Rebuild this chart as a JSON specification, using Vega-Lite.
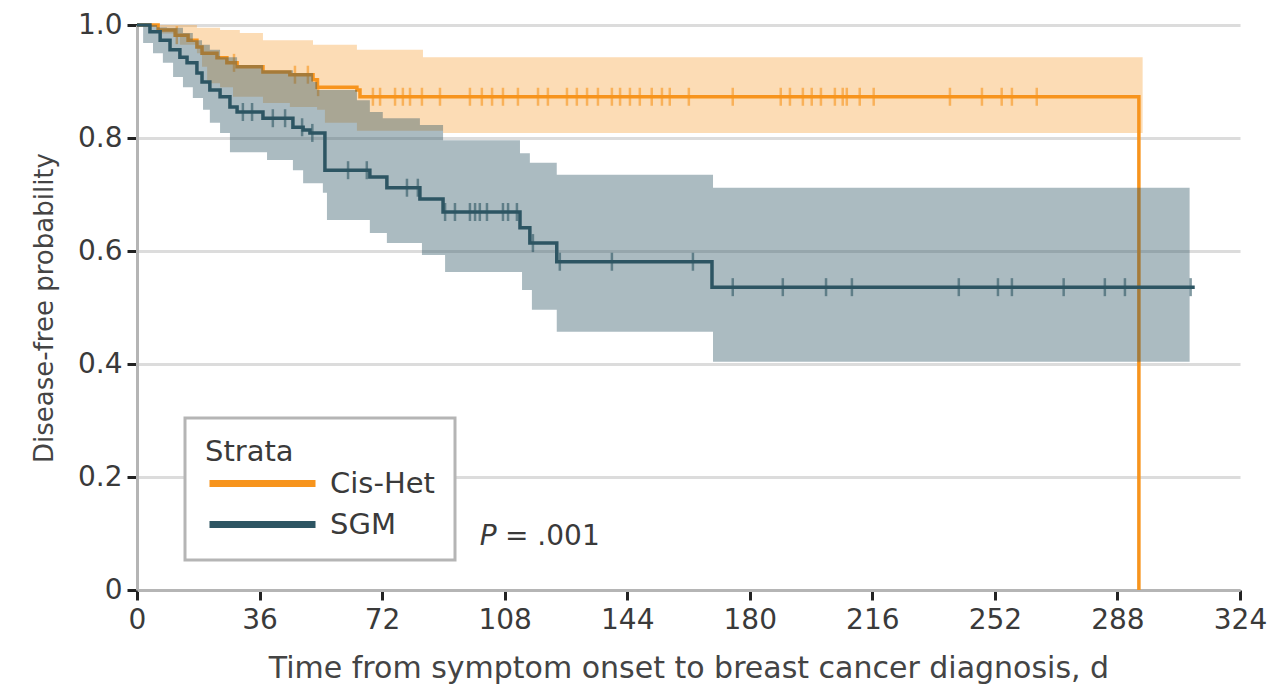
{
  "$schema": "https://vega.github.io/schema/vega-lite/v6.json",
  "width": 1103,
  "height": 565,
  "autosize": {"type": "none"},
  "padding": {"left": 137, "top": 25, "right": 31, "bottom": 96},
  "background": "white",
  "config": {
    "view": {"stroke": null},
    "font": "DejaVu Sans",
    "legend": {"strokeWidth": 3}
  },
  "datasets": {
    "curves": [
      {"group": "Cis-Het", "d": 0, "p": 1.0},
      {"group": "Cis-Het", "d": 6.2, "p": 0.991},
      {"group": "Cis-Het", "d": 11.2, "p": 0.982},
      {"group": "Cis-Het", "d": 15.0, "p": 0.973},
      {"group": "Cis-Het", "d": 17.6, "p": 0.961},
      {"group": "Cis-Het", "d": 19.1, "p": 0.950},
      {"group": "Cis-Het", "d": 23.5, "p": 0.942},
      {"group": "Cis-Het", "d": 26.4, "p": 0.933},
      {"group": "Cis-Het", "d": 29.4, "p": 0.926},
      {"group": "Cis-Het", "d": 37.0, "p": 0.917},
      {"group": "Cis-Het", "d": 44.9, "p": 0.912},
      {"group": "Cis-Het", "d": 51.7, "p": 0.903},
      {"group": "Cis-Het", "d": 52.9, "p": 0.890},
      {"group": "Cis-Het", "d": 64.6, "p": 0.885},
      {"group": "Cis-Het", "d": 65.5, "p": 0.873},
      {"group": "Cis-Het", "d": 294.3, "p": 0.0},
      {"group": "SGM", "d": 0, "p": 1.0},
      {"group": "SGM", "d": 3.8, "p": 0.988},
      {"group": "SGM", "d": 6.8, "p": 0.973},
      {"group": "SGM", "d": 9.7, "p": 0.956},
      {"group": "SGM", "d": 12.6, "p": 0.943},
      {"group": "SGM", "d": 14.7, "p": 0.933},
      {"group": "SGM", "d": 17.6, "p": 0.915},
      {"group": "SGM", "d": 19.1, "p": 0.899},
      {"group": "SGM", "d": 21.4, "p": 0.885},
      {"group": "SGM", "d": 24.4, "p": 0.873},
      {"group": "SGM", "d": 27.3, "p": 0.855},
      {"group": "SGM", "d": 29.4, "p": 0.846},
      {"group": "SGM", "d": 37.0, "p": 0.835},
      {"group": "SGM", "d": 45.8, "p": 0.819},
      {"group": "SGM", "d": 48.8, "p": 0.814},
      {"group": "SGM", "d": 50.8, "p": 0.809},
      {"group": "SGM", "d": 55.2, "p": 0.743},
      {"group": "SGM", "d": 68.4, "p": 0.731},
      {"group": "SGM", "d": 73.4, "p": 0.712},
      {"group": "SGM", "d": 83.1, "p": 0.692},
      {"group": "SGM", "d": 89.9, "p": 0.669},
      {"group": "SGM", "d": 112.5, "p": 0.641},
      {"group": "SGM", "d": 115.4, "p": 0.614},
      {"group": "SGM", "d": 123.3, "p": 0.581},
      {"group": "SGM", "d": 168.9, "p": 0.536},
      {"group": "SGM", "d": 310.7, "p": 0.536}
    ],
    "bands": [
      {"group": "Cis-Het", "d": 0, "lo": 1.0, "hi": 1.0},
      {"group": "Cis-Het", "d": 6.8, "lo": 0.985, "hi": 1.0},
      {"group": "Cis-Het", "d": 12.6, "lo": 0.965, "hi": 1.0},
      {"group": "Cis-Het", "d": 17.6, "lo": 0.950, "hi": 0.995},
      {"group": "Cis-Het", "d": 19.1, "lo": 0.926, "hi": 0.995},
      {"group": "Cis-Het", "d": 20.6, "lo": 0.897, "hi": 0.995},
      {"group": "Cis-Het", "d": 24.4, "lo": 0.890, "hi": 0.991},
      {"group": "Cis-Het", "d": 28.2, "lo": 0.873, "hi": 0.991},
      {"group": "Cis-Het", "d": 30.2, "lo": 0.873, "hi": 0.986},
      {"group": "Cis-Het", "d": 37.0, "lo": 0.862, "hi": 0.973},
      {"group": "Cis-Het", "d": 44.9, "lo": 0.855, "hi": 0.973},
      {"group": "Cis-Het", "d": 51.7, "lo": 0.855, "hi": 0.965},
      {"group": "Cis-Het", "d": 52.9, "lo": 0.850, "hi": 0.965},
      {"group": "Cis-Het", "d": 55.2, "lo": 0.827, "hi": 0.965},
      {"group": "Cis-Het", "d": 64.6, "lo": 0.813, "hi": 0.956},
      {"group": "Cis-Het", "d": 84.0, "lo": 0.813, "hi": 0.943},
      {"group": "Cis-Het", "d": 89.9, "lo": 0.809, "hi": 0.943},
      {"group": "Cis-Het", "d": 295.4, "lo": 0.809, "hi": 0.943},
      {"group": "SGM", "d": 0, "lo": 1.0, "hi": 1.0},
      {"group": "SGM", "d": 1.8, "lo": 0.968, "hi": 1.0},
      {"group": "SGM", "d": 4.7, "lo": 0.950, "hi": 1.0},
      {"group": "SGM", "d": 5.9, "lo": 0.950, "hi": 0.996},
      {"group": "SGM", "d": 7.6, "lo": 0.933, "hi": 0.996},
      {"group": "SGM", "d": 8.8, "lo": 0.933, "hi": 0.995},
      {"group": "SGM", "d": 10.6, "lo": 0.908, "hi": 0.995},
      {"group": "SGM", "d": 13.5, "lo": 0.890, "hi": 0.986},
      {"group": "SGM", "d": 16.4, "lo": 0.871, "hi": 0.973},
      {"group": "SGM", "d": 19.1, "lo": 0.871, "hi": 0.965},
      {"group": "SGM", "d": 19.4, "lo": 0.850, "hi": 0.965},
      {"group": "SGM", "d": 21.4, "lo": 0.827, "hi": 0.956},
      {"group": "SGM", "d": 24.4, "lo": 0.809, "hi": 0.943},
      {"group": "SGM", "d": 27.3, "lo": 0.775, "hi": 0.943},
      {"group": "SGM", "d": 29.4, "lo": 0.775, "hi": 0.929},
      {"group": "SGM", "d": 37.0, "lo": 0.775, "hi": 0.920},
      {"group": "SGM", "d": 38.2, "lo": 0.761, "hi": 0.920},
      {"group": "SGM", "d": 45.8, "lo": 0.743, "hi": 0.915},
      {"group": "SGM", "d": 48.8, "lo": 0.720, "hi": 0.915},
      {"group": "SGM", "d": 51.7, "lo": 0.720, "hi": 0.899},
      {"group": "SGM", "d": 52.9, "lo": 0.720, "hi": 0.885},
      {"group": "SGM", "d": 54.6, "lo": 0.703, "hi": 0.885},
      {"group": "SGM", "d": 55.8, "lo": 0.655, "hi": 0.885},
      {"group": "SGM", "d": 64.6, "lo": 0.655, "hi": 0.867},
      {"group": "SGM", "d": 68.4, "lo": 0.632, "hi": 0.846},
      {"group": "SGM", "d": 72.2, "lo": 0.632, "hi": 0.835},
      {"group": "SGM", "d": 73.4, "lo": 0.614, "hi": 0.835},
      {"group": "SGM", "d": 83.1, "lo": 0.614, "hi": 0.823},
      {"group": "SGM", "d": 83.7, "lo": 0.593, "hi": 0.823},
      {"group": "SGM", "d": 89.9, "lo": 0.593, "hi": 0.796},
      {"group": "SGM", "d": 90.5, "lo": 0.563, "hi": 0.796},
      {"group": "SGM", "d": 112.5, "lo": 0.563, "hi": 0.773},
      {"group": "SGM", "d": 113.1, "lo": 0.531, "hi": 0.773},
      {"group": "SGM", "d": 115.4, "lo": 0.531, "hi": 0.756},
      {"group": "SGM", "d": 116.0, "lo": 0.496, "hi": 0.756},
      {"group": "SGM", "d": 123.3, "lo": 0.457, "hi": 0.735},
      {"group": "SGM", "d": 169.2, "lo": 0.404, "hi": 0.712},
      {"group": "SGM", "d": 309.2, "lo": 0.404, "hi": 0.712}
    ],
    "censor": [
      {"group": "Cis-Het", "d": 11.7, "p": 0.982},
      {"group": "Cis-Het", "d": 28.5, "p": 0.933},
      {"group": "Cis-Het", "d": 46.4, "p": 0.912},
      {"group": "Cis-Het", "d": 50.2, "p": 0.912},
      {"group": "Cis-Het", "d": 53.2, "p": 0.890},
      {"group": "Cis-Het", "d": 69.3, "p": 0.873},
      {"group": "Cis-Het", "d": 71.4, "p": 0.873},
      {"group": "Cis-Het", "d": 75.8, "p": 0.873},
      {"group": "Cis-Het", "d": 78.1, "p": 0.873},
      {"group": "Cis-Het", "d": 80.2, "p": 0.873},
      {"group": "Cis-Het", "d": 83.7, "p": 0.873},
      {"group": "Cis-Het", "d": 89.0, "p": 0.873},
      {"group": "Cis-Het", "d": 97.8, "p": 0.873},
      {"group": "Cis-Het", "d": 101.3, "p": 0.873},
      {"group": "Cis-Het", "d": 104.3, "p": 0.873},
      {"group": "Cis-Het", "d": 107.5, "p": 0.873},
      {"group": "Cis-Het", "d": 111.9, "p": 0.873},
      {"group": "Cis-Het", "d": 117.8, "p": 0.873},
      {"group": "Cis-Het", "d": 120.7, "p": 0.873},
      {"group": "Cis-Het", "d": 126.3, "p": 0.873},
      {"group": "Cis-Het", "d": 129.2, "p": 0.873},
      {"group": "Cis-Het", "d": 132.2, "p": 0.873},
      {"group": "Cis-Het", "d": 135.4, "p": 0.873},
      {"group": "Cis-Het", "d": 139.5, "p": 0.873},
      {"group": "Cis-Het", "d": 141.9, "p": 0.873},
      {"group": "Cis-Het", "d": 144.8, "p": 0.873},
      {"group": "Cis-Het", "d": 147.7, "p": 0.873},
      {"group": "Cis-Het", "d": 151.2, "p": 0.873},
      {"group": "Cis-Het", "d": 154.2, "p": 0.873},
      {"group": "Cis-Het", "d": 156.5, "p": 0.873},
      {"group": "Cis-Het", "d": 162.1, "p": 0.873},
      {"group": "Cis-Het", "d": 175.0, "p": 0.873},
      {"group": "Cis-Het", "d": 189.1, "p": 0.873},
      {"group": "Cis-Het", "d": 191.8, "p": 0.873},
      {"group": "Cis-Het", "d": 195.6, "p": 0.873},
      {"group": "Cis-Het", "d": 198.2, "p": 0.873},
      {"group": "Cis-Het", "d": 200.9, "p": 0.873},
      {"group": "Cis-Het", "d": 205.0, "p": 0.873},
      {"group": "Cis-Het", "d": 207.3, "p": 0.873},
      {"group": "Cis-Het", "d": 208.5, "p": 0.873},
      {"group": "Cis-Het", "d": 212.3, "p": 0.873},
      {"group": "Cis-Het", "d": 216.4, "p": 0.873},
      {"group": "Cis-Het", "d": 238.8, "p": 0.873},
      {"group": "Cis-Het", "d": 248.2, "p": 0.873},
      {"group": "Cis-Het", "d": 254.0, "p": 0.873},
      {"group": "Cis-Het", "d": 257.0, "p": 0.873},
      {"group": "Cis-Het", "d": 264.3, "p": 0.873},
      {"group": "SGM", "d": 31.1, "p": 0.846},
      {"group": "SGM", "d": 33.8, "p": 0.846},
      {"group": "SGM", "d": 39.9, "p": 0.835},
      {"group": "SGM", "d": 43.5, "p": 0.835},
      {"group": "SGM", "d": 48.5, "p": 0.819},
      {"group": "SGM", "d": 51.5, "p": 0.809},
      {"group": "SGM", "d": 62.0, "p": 0.743},
      {"group": "SGM", "d": 67.5, "p": 0.743},
      {"group": "SGM", "d": 79.3, "p": 0.712},
      {"group": "SGM", "d": 82.5, "p": 0.712},
      {"group": "SGM", "d": 90.5, "p": 0.669},
      {"group": "SGM", "d": 93.4, "p": 0.669},
      {"group": "SGM", "d": 97.8, "p": 0.669},
      {"group": "SGM", "d": 99.3, "p": 0.669},
      {"group": "SGM", "d": 100.7, "p": 0.669},
      {"group": "SGM", "d": 102.8, "p": 0.669},
      {"group": "SGM", "d": 107.5, "p": 0.669},
      {"group": "SGM", "d": 109.0, "p": 0.669},
      {"group": "SGM", "d": 111.6, "p": 0.669},
      {"group": "SGM", "d": 116.3, "p": 0.614},
      {"group": "SGM", "d": 124.2, "p": 0.581},
      {"group": "SGM", "d": 139.5, "p": 0.581},
      {"group": "SGM", "d": 163.3, "p": 0.581},
      {"group": "SGM", "d": 175.0, "p": 0.536},
      {"group": "SGM", "d": 189.7, "p": 0.536},
      {"group": "SGM", "d": 202.4, "p": 0.536},
      {"group": "SGM", "d": 210.0, "p": 0.536},
      {"group": "SGM", "d": 241.4, "p": 0.536},
      {"group": "SGM", "d": 252.9, "p": 0.536},
      {"group": "SGM", "d": 257.0, "p": 0.536},
      {"group": "SGM", "d": 272.2, "p": 0.536},
      {"group": "SGM", "d": 284.3, "p": 0.536},
      {"group": "SGM", "d": 290.2, "p": 0.536},
      {"group": "SGM", "d": 309.5, "p": 0.536}
    ],
    "notes": [
      {"part": "P", "d": 100.7, "p": 0.093, "label": "P"},
      {"part": "rest", "d": 108.1, "p": 0.093, "label": "= .001"}
    ]
  },
  "encoding": {
    "x": {
      "field": "d",
      "type": "quantitative",
      "scale": {"domain": [0, 324], "nice": false, "zero": false},
      "axis": {
        "values": [0, 36, 72, 108, 144, 180, 216, 252, 288, 324],
        "title": "Time from symptom onset to breast cancer diagnosis, d",
        "grid": false,
        "domainColor": "#b5b5b5",
        "domainWidth": 3,
        "tickColor": "#222222",
        "tickWidth": 3,
        "tickSize": 10,
        "labelFontSize": 28,
        "labelColor": "#3a3a3a",
        "labelPadding": 6,
        "labelFlush": false,
        "titleFontSize": 30,
        "titleFontWeight": "normal",
        "titleColor": "#444444",
        "titlePadding": 19
      }
    }
  },
  "layer": [
    {
      "data": {"name": "bands"},
      "transform": [{"filter": "datum.group === 'Cis-Het'"}],
      "mark": {"type": "area", "interpolate": "step-after", "fillOpacity": 0.33, "color": "#f7941d"},
      "encoding": {
        "y": {
          "field": "lo",
          "type": "quantitative",
          "scale": {"domain": [0, 1], "nice": false},
          "axis": {
            "values": [0, 0.2, 0.4, 0.6, 0.8, 1.0],
            "labelExpr": "datum.value === 0 ? '0' : format(datum.value, '.1f')",
            "title": "Disease-free probability",
            "grid": true,
            "gridColor": "#dcdcdc",
            "gridWidth": 3,
            "domainColor": "#b5b5b5",
            "domainWidth": 3,
            "tickColor": "#222222",
            "tickWidth": 3,
            "tickSize": 10,
            "labelFontSize": 28,
            "labelColor": "#3a3a3a",
            "labelPadding": 5,
            "labelFlush": false,
            "titleFontSize": 26,
            "titleFontWeight": "normal",
            "titleColor": "#444444",
            "titlePadding": 20
          }
        },
        "y2": {"field": "hi"}
      }
    },
    {
      "data": {"name": "curves"},
      "transform": [{"filter": "datum.group === 'Cis-Het'"}],
      "mark": {"type": "line", "interpolate": "step-after", "strokeWidth": 3.5},
      "encoding": {
        "y": {"field": "p", "type": "quantitative"},
        "color": {
          "field": "group",
          "type": "nominal",
          "scale": {"domain": ["Cis-Het", "SGM"], "range": ["#f7941d", "#2d5563"]},
          "legend": {
            "orient": "none",
            "legendX": 48,
            "legendY": 393,
            "title": "Strata",
            "titleFontSize": 29,
            "titleFontWeight": "normal",
            "titleColor": "#3a3a3a",
            "titlePadding": 2,
            "labelFontSize": 29,
            "labelColor": "#3a3a3a",
            "labelOffset": 96,
            "symbolType": "M-1,0H9.6",
            "symbolSize": 400,
            "symbolStrokeWidth": 7,
            "rowPadding": 11,
            "padding": 20,
            "strokeColor": "#b5b5b5",
            "fillColor": "white"
          }
        }
      }
    },
    {
      "data": {"name": "censor"},
      "transform": [{"filter": "datum.group === 'Cis-Het'"}],
      "mark": {"type": "tick", "orient": "vertical", "size": 18, "thickness": 2.5, "opacity": 0.6, "color": "#f7941d"},
      "encoding": {
        "y": {"field": "p", "type": "quantitative"}
      }
    },
    {
      "data": {"name": "bands"},
      "transform": [{"filter": "datum.group === 'SGM'"}],
      "mark": {"type": "area", "interpolate": "step-after", "fillOpacity": 0.4, "color": "#2d5563"},
      "encoding": {
        "y": {"field": "lo", "type": "quantitative"},
        "y2": {"field": "hi"}
      }
    },
    {
      "data": {"name": "curves"},
      "transform": [{"filter": "datum.group === 'SGM'"}],
      "mark": {"type": "line", "interpolate": "step-after", "strokeWidth": 3.5},
      "encoding": {
        "y": {"field": "p", "type": "quantitative"},
        "color": {
          "field": "group",
          "type": "nominal",
          "scale": {"domain": ["Cis-Het", "SGM"], "range": ["#f7941d", "#2d5563"]},
          "legend": {
            "orient": "none",
            "legendX": 48,
            "legendY": 393,
            "title": "Strata",
            "titleFontSize": 29,
            "titleFontWeight": "normal",
            "titleColor": "#3a3a3a",
            "titlePadding": 2,
            "labelFontSize": 29,
            "labelColor": "#3a3a3a",
            "labelOffset": 96,
            "symbolType": "M-1,0H9.6",
            "symbolSize": 400,
            "symbolStrokeWidth": 7,
            "rowPadding": 11,
            "padding": 20,
            "strokeColor": "#b5b5b5",
            "fillColor": "white"
          }
        }
      }
    },
    {
      "data": {"name": "censor"},
      "transform": [{"filter": "datum.group === 'SGM'"}],
      "mark": {"type": "tick", "orient": "vertical", "size": 18, "thickness": 2.5, "opacity": 0.6, "color": "#2d5563"},
      "encoding": {
        "y": {"field": "p", "type": "quantitative"}
      }
    },
    {
      "data": {"name": "notes"},
      "transform": [{"filter": "datum.part === 'P'"}],
      "mark": {"type": "text", "align": "left", "baseline": "middle", "fontSize": 28, "fontStyle": "italic", "color": "#3a3a3a"},
      "encoding": {
        "y": {"field": "p", "type": "quantitative"},
        "text": {"field": "label"}
      }
    },
    {
      "data": {"name": "notes"},
      "transform": [{"filter": "datum.part === 'rest'"}],
      "mark": {"type": "text", "align": "left", "baseline": "middle", "fontSize": 28, "color": "#3a3a3a"},
      "encoding": {
        "y": {"field": "p", "type": "quantitative"},
        "text": {"field": "label"}
      }
    }
  ]
}
